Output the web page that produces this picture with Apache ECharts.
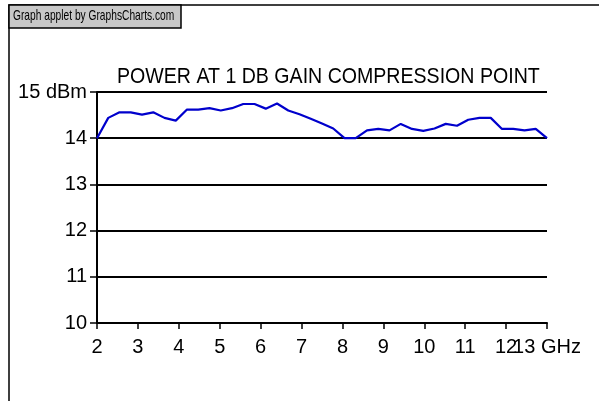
<!DOCTYPE html>
<html>
<head>
<meta charset="utf-8">
<script src="https://cdn.jsdelivr.net/npm/echarts@6/dist/echarts.min.js"></script>
<style>
html,body{margin:0;padding:0;background:#fff;}
#c{width:599px;height:401px;}
</style>
</head>
<body>
<div id="c"></div>
<script>
const freqGHz = [2.0, 2.275, 2.55, 2.825, 3.1, 3.375, 3.65, 3.925, 4.2, 4.475, 4.75, 5.025, 5.3, 5.575, 5.85, 6.125, 6.4, 6.675, 6.95, 7.225, 7.5, 7.775, 8.05, 8.325, 8.6, 8.875, 9.15, 9.425, 9.7, 9.975, 10.25, 10.525, 10.8, 11.075, 11.35, 11.625, 11.9, 12.175, 12.45, 12.725, 13.0];
const powerDbm = [14.0, 14.44, 14.56, 14.56, 14.51, 14.56, 14.44, 14.38, 14.62, 14.62, 14.65, 14.6, 14.65, 14.74, 14.74, 14.64, 14.75, 14.6, 14.52, 14.42, 14.32, 14.21, 14.0, 14.0, 14.17, 14.2, 14.17, 14.31, 14.2, 14.16, 14.21, 14.31, 14.27, 14.4, 14.44, 14.44, 14.2, 14.2, 14.17, 14.2, 14.0];
const xTicks = [2, 3, 4, 5, 6, 7, 8, 9, 10, 11, 12, 13];
const yTicks = [10, 11, 12, 13, 14, 15];
const xUnit = 'GHz';
const yUnit = 'dBm';
const chartTitle = 'POWER AT 1 DB GAIN COMPRESSION POINT';
const headerText = 'Graph applet by GraphsCharts.com';

const FONT = "'Liberation Sans', Arial, sans-serif";
const xMin = xTicks[0], xMax = xTicks[xTicks.length - 1];
const labelFont = {color: '#000', fontFamily: FONT, fontSize: 20};
const chart = echarts.init(document.getElementById('c'), null, {renderer: 'canvas'});
chart.setOption({
  animation: false,
  backgroundColor: '#fff',
  graphic: [{
    type: 'rect', z: -1, silent: true,
    shape: {x: 9, y: 5, width: 700, height: 500},
    style: {fill: 'none', stroke: '#000', lineWidth: 1.5}
  }, {
    type: 'rect', z: 10, silent: true,
    shape: {x: 9, y: 5, width: 172, height: 23},
    style: {fill: '#c8c8c8', stroke: '#000', lineWidth: 1.5}
  }, {
    type: 'text', z: 11, silent: true, x: 13, y: 16.5, scaleX: 0.72,
    style: {text: headerText, fill: '#000', font: "14.2px 'Liberation Sans', Arial, sans-serif", verticalAlign: 'middle', align: 'left'}
  }, {
    type: 'text', z: 11, silent: true, x: 117, y: 76.5, scaleX: 0.87,
    style: {text: chartTitle, fill: '#000', font: "22.5px 'Liberation Sans', Arial, sans-serif", verticalAlign: 'middle', align: 'left'}
  }],
  grid: {left: 97, right: 52, top: 92, bottom: 78, containLabel: false},
  xAxis: [{
    type: 'value', min: xMin, max: xMax, interval: 1,
    axisLine: {show: true, onZero: false, lineStyle: {color: '#000', width: 2}},
    axisTick: {show: true, length: 6, lineStyle: {color: '#000', width: 1.5}},
    splitLine: {show: false},
    axisLabel: Object.assign({
      margin: 14, showMinLabel: true,
      formatter: v => v === xMax ? '' : String(v)
    }, labelFont)
  }, {
    type: 'value', min: xMin, max: xMax, interval: 1, position: 'bottom',
    axisLine: {show: false}, axisTick: {show: false}, splitLine: {show: false},
    axisLabel: Object.assign({
      margin: 14, showMaxLabel: true,
      formatter: v => v === xMax ? v + ' ' + xUnit : ''
    }, labelFont)
  }],
  yAxis: {
    type: 'value', min: yTicks[0], max: yTicks[yTicks.length - 1], interval: 1,
    axisLine: {show: true, lineStyle: {color: '#000', width: 2}},
    axisTick: {show: true, length: 7, lineStyle: {color: '#000', width: 1.5}},
    splitLine: {show: true, lineStyle: {color: '#000', width: 2}},
    axisLabel: Object.assign({
      margin: 10, showMinLabel: true, showMaxLabel: true,
      formatter: v => v === yTicks[yTicks.length - 1] ? v + ' ' + yUnit : String(v)
    }, labelFont)
  },
  series: [{
    type: 'line', xAxisIndex: 0,
    data: freqGHz.map((f, i) => [f, powerDbm[i]]),
    symbol: 'none',
    lineStyle: {color: '#0000cc', width: 2.2},
    clip: false
  }]
});
</script>
</body>
</html>
